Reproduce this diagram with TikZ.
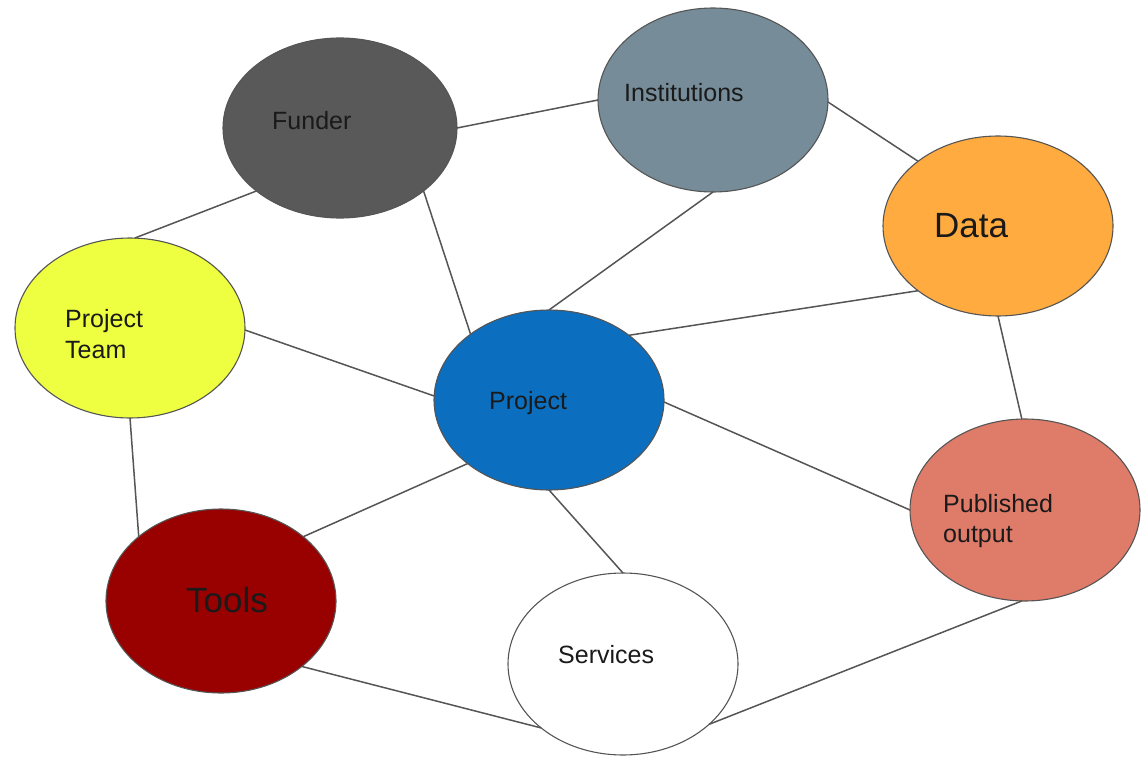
\documentclass[tikz,border=0pt]{standalone}
\usepackage{fontspec}
\setmainfont{Liberation Sans}
\usetikzlibrary{shapes.geometric}
\definecolor{cfund}{HTML}{595959}
\definecolor{cinst}{HTML}{768C99}
\definecolor{cdata}{HTML}{FFAB40}
\definecolor{cteam}{HTML}{EEFF41}
\definecolor{cproj}{HTML}{0B6EBE}
\definecolor{cpub}{HTML}{DE7B69}
\definecolor{ctool}{HTML}{990000}
\definecolor{cline}{HTML}{555555}
\definecolor{ctext}{HTML}{1A1A1A}
\tikzset{
  blob/.style={ellipse, draw=cline, line width=1.1pt, minimum width=230pt, minimum height=180pt, inner sep=0pt, outer sep=0pt},
  lbl/.style={anchor=base west, inner sep=0pt, text=ctext, font=\fontsize{25}{30}\selectfont},
  biglbl/.style={anchor=base west, inner sep=0pt, text=ctext, font=\fontsize{35}{42}\selectfont},
  link/.style={draw=cline, line width=1.5pt}
}
\begin{document}
\begin{tikzpicture}[x=1pt,y=-1pt]
\useasboundingbox (0,0) rectangle (1145,757);
\node[blob, fill=cfund, minimum width=234pt] (fund) at (340,128) {};
\node[blob, fill=cinst, minimum height=184pt] (inst) at (713,100) {};
\node[blob, fill=cdata] (data) at (998,226) {};
\node[blob, fill=cteam] (team) at (130,328) {};
\node[blob, fill=cproj] (proj) at (549,400) {};
\node[blob, fill=cpub, minimum height=182pt] (pub) at (1025,510) {};
\node[blob, fill=ctool, minimum height=184pt] (tool) at (221,601) {};
\node[blob, fill=white, minimum height=182pt] (serv) at (623,664) {};

\node[lbl] (fundt) at (272,129) {Funder};
\node[lbl] (instt) at (624,102) {Institutions};
\node[biglbl] (datat) at (934,237) {Data};
\node[lbl] (teamt1) at (65,327) {Project};
\node[lbl] (teamt2) at (65,358) {Team};
\node[lbl] (projt) at (489,409) {Project};
\node[lbl] (pubt1) at (943,512) {Published};
\node[lbl] (pubt2) at (943,542) {output};
\node[biglbl] (toolt) at (186,612) {Tools};
\node[lbl] (servt) at (558,663) {Services};

\draw[link] (fund.0) -- (inst.180);
\draw[link] (fund.217) -- (team.87);
\draw[link] (fund.323) -- (proj.140);
\draw[link] (inst.-1) -- (data.141);
\draw[link] (inst.270) -- (proj.90);
\draw[link] (data.219) -- (proj.39);
\draw[link] (data.270) -- (pub.92);
\draw[link] (team.-1) -- (proj.178);
\draw[link] (team.270) -- (tool.142);
\draw[link] (proj.218) -- (tool.38);
\draw[link] (proj.-1) -- (pub.180);
\draw[link] (proj.270) -- (serv.90);
\draw[link] (tool.321) -- (serv.218);
\draw[link] (serv.325) -- (pub.268);
\end{tikzpicture}
\end{document}
